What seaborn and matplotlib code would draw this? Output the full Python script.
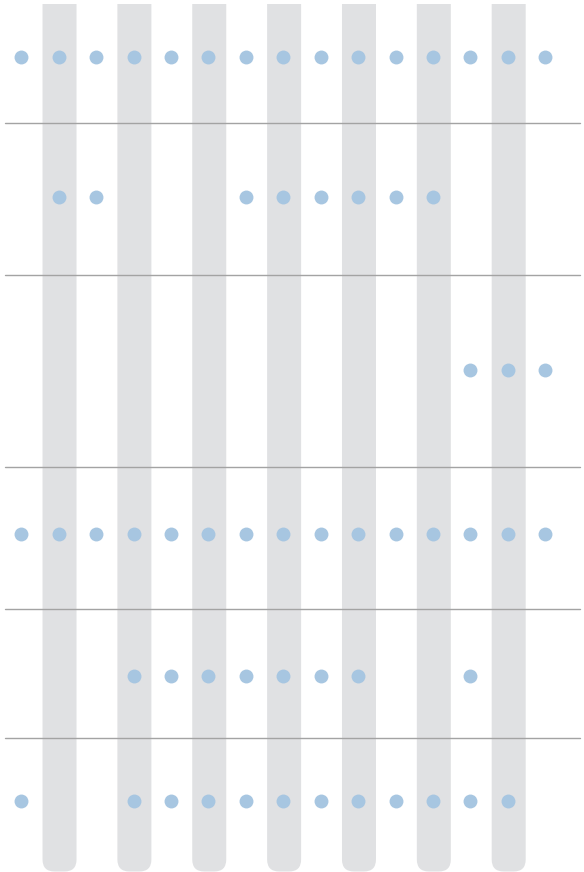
import matplotlib
matplotlib.use("Agg")
import matplotlib.pyplot as plt
from matplotlib.patches import FancyBboxPatch
import seaborn as sns
import pandas as pd

# ---- data ----
columns = list(range(1, 16))
rows = ["A", "B", "C", "D", "E", "F"]
row_a = [1, 2, 3, 4, 5, 6, 7, 8, 9, 10, 11, 12, 13, 14, 15]
row_b = [2, 3, 7, 8, 9, 10, 11, 12]
row_c = [13, 14, 15]
row_d = [1, 2, 3, 4, 5, 6, 7, 8, 9, 10, 11, 12, 13, 14, 15]
row_e = [4, 5, 6, 7, 8, 9, 10, 13]
row_f = [1, 4, 5, 6, 7, 8, 9, 10, 11, 12, 13, 14]
shaded_columns = [2, 4, 6, 8, 10, 12, 14]

# ---- layout ----
W, H, DPI = 584, 872, 100
row_centers = {"A": 57, "B": 197, "C": 370, "D": 534, "E": 676, "F": 801}
separators = [123.5, 275.5, 467.5, 609.5, 738.5]
col_px = 37.43          # pixels per column
first_col_px = 21.3     # pixel x of column 1
band_shift_px = 0.8
dot_color = "#a7c6e1"
band_color = "#e0e1e3"
line_color = "#a3a3a3"

members = dict(zip(rows, [row_a, row_b, row_c, row_d, row_e, row_f]))
records = [{"row": r, "column": c} for r in rows for c in members[r]]
df = pd.DataFrame(records)
df["y"] = df["row"].map(row_centers)

sns.set_theme(style="white")
fig = plt.figure(figsize=(W / DPI, H / DPI), dpi=DPI)
top_px = 4
ax = fig.add_axes([0, 0, 1, (H - top_px) / H])
x0 = 1 - first_col_px / col_px
x1 = x0 + W / col_px
ax.set_xlim(x0, x1)
ax.set_ylim(H, top_px)

band_w = 34 / col_px
radius = 12 / col_px
shift = band_shift_px / col_px
for c in shaded_columns:
    p = FancyBboxPatch((c - band_w / 2 + shift, -60), band_w, H + 60 - 0.5,
                       boxstyle=f"round,pad=0,rounding_size={radius}",
                       mutation_aspect=col_px,
                       facecolor=band_color, edgecolor="none", zorder=1)
    ax.add_patch(p)

for s in separators:
    ax.axhline(s, xmin=5 / W, xmax=580 / W, color=line_color, lw=1.0, zorder=2)

sns.scatterplot(data=df, x="column", y="y", ax=ax, color=dot_color,
                s=100, linewidth=0, zorder=3, legend=False)

ax.set_axis_off()
fig.savefig("out.png", dpi=DPI)
